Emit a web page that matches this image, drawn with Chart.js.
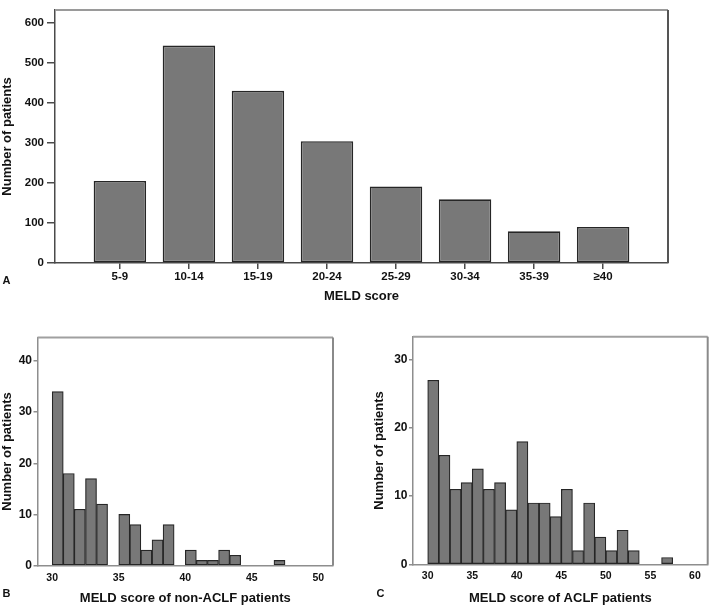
<!DOCTYPE html>
<html>
<head>
<meta charset="utf-8">
<script src="https://cdn.jsdelivr.net/npm/chart.js@4"></script>
<style>
  html, body { margin: 0; padding: 0; background: #fff; }
  #wrap { position: relative; width: 709px; height: 606px; overflow: hidden; background: #fff; }
  canvas { position: absolute; }
  .panel { position: absolute; font: bold 11px "Liberation Sans", Arial, sans-serif; line-height: 1; color: #111; }
</style>
</head>
<body>
<div id="wrap">
  <canvas id="cA" width="709" height="304" style="left:0;top:0"></canvas>
  <canvas id="cB" width="345" height="286" style="left:0;top:320px"></canvas>
  <canvas id="cC" width="337" height="286" style="left:372px;top:320px"></canvas>
  <div class="panel" style="left:2.5px;top:275px">A</div>
  <div class="panel" style="left:2.5px;top:587.5px">B</div>
  <div class="panel" style="left:376.5px;top:587.5px">C</div>
</div>
<script>
// ---- Panel A: all patients by MELD category ----
const meldCategories = ['5-9', '10-14', '15-19', '20-24', '25-29', '30-34', '35-39', '≥40'];
const meldCounts = [205, 543, 430, 304, 191, 159, 79, 90];
const yTicksA = [0, 100, 200, 300, 400, 500, 600];

// ---- Panel B: non-ACLF patients, MELD >= 30 (bin centres) ----
const binCentersB = [30.42, 31.25, 32.08, 32.92, 33.75, 34.58, 35.42, 36.25, 37.08, 37.92, 38.75,
                     39.58, 40.42, 41.25, 42.08, 42.92, 43.75, 44.58, 45.42, 46.25, 47.08];
const countsB = [34, 18, 11, 17, 12, 0, 10, 8, 3, 5, 8, 0, 3, 1, 1, 3, 2, 0, 0, 0, 1];
const xTicksB = [30, 35, 40, 45, 50];
const yTicksB = [0, 10, 20, 30, 40];

// ---- Panel C: ACLF patients, MELD >= 30 (bin centres) ----
const binCentersC = [30.625, 31.875, 33.125, 34.375, 35.625, 36.875, 38.125, 39.375, 40.625, 41.875, 43.125,
                     44.375, 45.625, 46.875, 48.125, 49.375, 50.625, 51.875, 53.125, 54.375, 55.625, 56.875];
const countsC = [27, 16, 11, 12, 14, 11, 12, 8, 18, 9, 9, 7, 11, 2, 9, 4, 2, 5, 2, 0, 0, 1];
const xTicksC = [30, 35, 40, 45, 50, 55, 60];
const yTicksC = [0, 10, 20, 30];

const FONT = '"Liberation Sans", Arial, sans-serif';
const TXT = '#111';
const BAR_FILL = '#787878';
const BAR_EDGE = '#262626';

const framePlugin = {
  id: 'frame',
  afterDatasetsDraw(chart, args, opts) {
    const { ctx, chartArea: { left, top, right, bottom } } = chart;
    ctx.save();
    ctx.lineWidth = opts.width || 2;
    ctx.strokeStyle = opts.topColor || '#999';
    ctx.beginPath(); ctx.moveTo(left, top); ctx.lineTo(right, top); ctx.stroke();
    ctx.strokeStyle = opts.rightColor || '#666';
    ctx.beginPath(); ctx.moveTo(right, top); ctx.lineTo(right, bottom); ctx.stroke();
    ctx.restore();
  }
};

function makeChart(id, cfg) {
  return new Chart(document.getElementById(id), {
    type: 'bar',
    data: {
      datasets: [{
        data: cfg.xs.map((x, i) => ({ x: x, y: cfg.ys[i] })),
        backgroundColor: BAR_FILL,
        borderColor: BAR_EDGE,
        borderWidth: cfg.barBorder,
        borderSkipped: false,
        barPercentage: cfg.barPct,
        categoryPercentage: 1
      }]
    },
    options: {
      responsive: false,
      animation: false,
      devicePixelRatio: 1,
      layout: { padding: cfg.padding },
      plugins: {
        legend: { display: false },
        tooltip: { enabled: false },
        frame: cfg.frame
      },
      scales: {
        x: {
          type: 'linear',
          min: cfg.xMin, max: cfg.xMax,
          offset: false,
          afterBuildTicks: s => { s.ticks = cfg.xTicks.map(v => ({ value: v })); },
          afterFit: s => { s.height = cfg.xHeight; },
          ticks: {
            autoSkip: false, maxRotation: 0, minRotation: 0,
            padding: cfg.xTickPad,
            color: TXT,
            font: { family: FONT, size: cfg.xTickSize, weight: 'bold' },
            callback: cfg.xLabel
          },
          grid: { drawOnChartArea: false, drawTicks: cfg.xTickLen > 0, tickLength: cfg.xTickLen, color: cfg.axisColor, offset: false, lineWidth: 1.5 },
          border: { color: cfg.axisColor, width: cfg.axisWidth },
          title: {
            display: true, text: cfg.xTitle, color: TXT, padding: 0,
            font: { family: FONT, size: 13, weight: 'bold' }
          }
        },
        y: {
          type: 'linear',
          min: 0, max: cfg.yMax,
          afterBuildTicks: s => { s.ticks = cfg.yTicks.map(v => ({ value: v })); },
          afterFit: s => { s.width = cfg.yWidth; },
          ticks: {
            padding: cfg.yTickPad,
            color: TXT,
            font: { family: FONT, size: cfg.yTickSize, weight: 'bold' }
          },
          grid: { drawOnChartArea: false, drawTicks: true, tickLength: cfg.yTickLen, color: cfg.axisColor, lineWidth: 1.5 },
          border: { color: cfg.axisColor, width: cfg.axisWidth },
          title: {
            display: true, text: 'Number of patients', color: TXT, padding: 0,
            font: { family: FONT, size: 13, weight: 'bold' }
          }
        }
      }
    },
    plugins: [framePlugin]
  });
}

makeChart('cA', {
  xs: meldCategories.map((c, i) => i), ys: meldCounts,
  barPct: 0.76, barBorder: 1.6,
  padding: { top: 1, right: 41, left: 0, bottom: 0 },
  frame: { width: 2, topColor: '#9a9a9a', rightColor: '#555' },
  xMin: -0.94, xMax: 7.94, xTicks: meldCategories.map((c, i) => i),
  xLabel: v => meldCategories[v],
  xHeight: 41, xTickPad: 1, xTickLen: 6, xTickSize: 11.5,
  xTitle: 'MELD score',
  yMax: 632, yTicks: yTicksA, yWidth: 55, yTickPad: 3, yTickLen: 8, yTickSize: 11.5,
  axisColor: '#4a4a4a', axisWidth: 1.5
});

makeChart('cB', {
  xs: binCentersB, ys: countsB,
  barPct: 1, barBorder: 1.2,
  padding: { top: 17.5, right: 12, left: 0, bottom: 0 },
  frame: { width: 2, topColor: '#a0a0a0', rightColor: '#8a8a8a' },
  xMin: 28.9, xMax: 51.1, xTicks: xTicksB,
  xLabel: v => String(v),
  xHeight: 40.5, xTickPad: 6, xTickLen: 0, xTickSize: 10.5,
  xTitle: 'MELD score of non-ACLF patients',
  yMax: 44.6, yTicks: yTicksB, yWidth: 37.5, yTickPad: 1.5, yTickLen: 4, yTickSize: 12,
  axisColor: '#8e8e8e', axisWidth: 1.5
});

makeChart('cC', {
  xs: binCentersC, ys: countsC,
  barPct: 1, barBorder: 1.2,
  padding: { top: 16.7, right: 1.3, left: 0, bottom: 0 },
  frame: { width: 2, topColor: '#a0a0a0', rightColor: '#8a8a8a' },
  xMin: 28.35, xMax: 61.43, xTicks: xTicksC,
  xLabel: v => String(v),
  xHeight: 41.7, xTickPad: 6, xTickLen: 0, xTickSize: 10.5,
  xTitle: 'MELD score of ACLF patients',
  yMax: 33.4, yTicks: yTicksC, yWidth: 41, yTickPad: 1.5, yTickLen: 4, yTickSize: 12,
  axisColor: '#8e8e8e', axisWidth: 1.5
});
</script>
</body>
</html>
